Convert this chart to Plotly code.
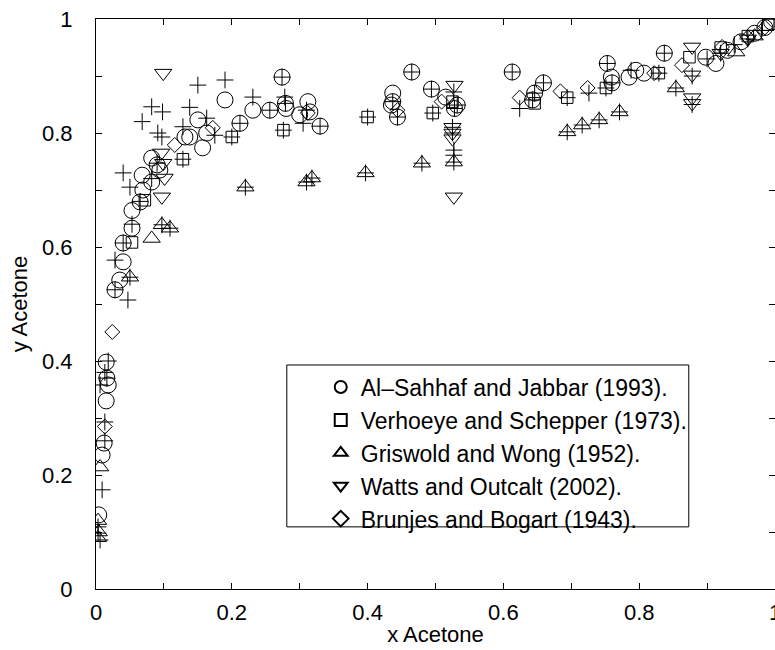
import plotly.graph_objects as go

# Al-Sahhaf and Jabbar (1993)
as_x = [0.004, 0.009, 0.012, 0.015, 0.016, 0.018, 0.015,
        0.028, 0.035, 0.040, 0.040, 0.053, 0.053, 0.065, 0.068, 0.069, 0.082, 0.082, 0.090, 0.094,
        0.131, 0.138, 0.150, 0.157, 0.163, 0.190, 0.212, 0.231, 0.256, 0.274, 0.279, 0.280, 0.300,
        0.312, 0.315, 0.330,
        0.437, 0.437, 0.435, 0.444, 0.465, 0.494, 0.515, 0.532, 0.528, 0.613, 0.646, 0.643, 0.659,
        0.753, 0.759, 0.760, 0.785, 0.795, 0.807, 0.837, 0.898, 0.913, 0.930, 0.950, 0.970, 0.985, 0.995]
as_y = [0.130, 0.235, 0.256, 0.330, 0.370, 0.358, 0.398,
        0.525, 0.542, 0.574, 0.607, 0.633, 0.664, 0.679, 0.726, 0.700, 0.714, 0.756, 0.744, 0.735,
        0.793, 0.793, 0.823, 0.774, 0.800, 0.858, 0.817, 0.840, 0.840, 0.898, 0.852, 0.843, 0.832,
        0.855, 0.837, 0.812,
        0.870, 0.855, 0.849, 0.828, 0.907, 0.877, 0.863, 0.849, 0.843, 0.907, 0.870, 0.858, 0.888,
        0.922, 0.898, 0.888, 0.898, 0.910, 0.905, 0.940, 0.933, 0.922, 0.945, 0.960, 0.975, 0.985, 0.995]

# Verhoeye and Schepper (1973)
vs_x = [0.053, 0.072, 0.128, 0.200, 0.276, 0.400, 0.496, 0.525, 0.646, 0.694, 0.751, 0.829,
        0.874, 0.920, 0.960, 0.990]
vs_y = [0.608, 0.682, 0.754, 0.793, 0.805, 0.828, 0.835, 0.855, 0.852, 0.862, 0.879, 0.905,
        0.933, 0.950, 0.970, 0.990]

# Griswold and Wong (1952)
gw_x = [0.003, 0.004, 0.003, 0.006, 0.050, 0.082, 0.097, 0.109, 0.220, 0.310, 0.318, 0.397,
        0.480, 0.527, 0.694, 0.716, 0.741, 0.771, 0.854, 0.943, 0.970]
gw_y = [0.120, 0.100, 0.090, 0.214, 0.547, 0.615, 0.639, 0.633, 0.705, 0.714, 0.721, 0.730,
        0.747, 0.749, 0.802, 0.814, 0.823, 0.837, 0.879, 0.942, 0.970]

# Watts and Outcalt (2002)
wo_x = [0.099, 0.096, 0.099, 0.101, 0.097, 0.528, 0.525, 0.525, 0.525, 0.527, 0.878, 0.878,
        0.878, 0.878, 0.920, 0.960]
wo_y = [0.905, 0.765, 0.747, 0.721, 0.688, 0.884, 0.810, 0.800, 0.790, 0.688, 0.951, 0.902,
        0.862, 0.852, 0.940, 0.965]

# Brunjes and Bogart (1943)
bb_x = [0.013, 0.024, 0.116, 0.172, 0.312, 0.444, 0.509, 0.624, 0.684, 0.724, 0.822, 0.863,
        0.922, 0.960, 0.985]
bb_y = [0.285, 0.451, 0.779, 0.809, 0.835, 0.840, 0.855, 0.862, 0.873, 0.879, 0.905, 0.919,
        0.951, 0.968, 0.985]

# calculated values (+), no legend entry
calc_x = [0.006, 0.003, 0.003, 0.009, 0.013, 0.013, 0.006, 0.013, 0.018, 0.016,
          0.028, 0.047, 0.028, 0.040, 0.050, 0.040, 0.053, 0.065, 0.082, 0.090, 0.068, 0.082,
          0.098, 0.091, 0.097, 0.128, 0.138, 0.150, 0.190, 0.163, 0.175, 0.097, 0.109, 0.050,
          0.212, 0.231, 0.256, 0.274, 0.279, 0.278, 0.305, 0.310, 0.330, 0.220, 0.310, 0.318,
          0.200, 0.276, 0.128,
          0.397, 0.400, 0.437, 0.444, 0.465, 0.494, 0.480, 0.496, 0.527, 0.527, 0.527, 0.527,
          0.528, 0.525, 0.525, 0.532,
          0.613, 0.624, 0.646, 0.643, 0.659, 0.694, 0.694, 0.716, 0.741, 0.771, 0.726, 0.753,
          0.760, 0.751, 0.788, 0.829, 0.837, 0.854, 0.878, 0.878, 0.900, 0.920, 0.940, 0.960,
          0.980, 1.000]
calc_y = [0.086, 0.098, 0.109, 0.174, 0.260, 0.293, 0.358, 0.380, 0.400, 0.370,
          0.577, 0.507, 0.525, 0.730, 0.705, 0.607, 0.640, 0.680, 0.720, 0.747, 0.820, 0.846,
          0.837, 0.800, 0.793, 0.811, 0.845, 0.884, 0.893, 0.826, 0.796, 0.639, 0.633, 0.547,
          0.817, 0.863, 0.840, 0.898, 0.852, 0.863, 0.817, 0.840, 0.812, 0.705, 0.714, 0.721,
          0.793, 0.805, 0.754,
          0.730, 0.828, 0.855, 0.828, 0.907, 0.877, 0.747, 0.835, 0.872, 0.770, 0.761, 0.749,
          0.843, 0.800, 0.810, 0.849,
          0.907, 0.843, 0.870, 0.858, 0.888, 0.862, 0.802, 0.814, 0.823, 0.837, 0.870, 0.922,
          0.888, 0.879, 0.910, 0.905, 0.940, 0.879, 0.900, 0.850, 0.930, 0.940, 0.955, 0.965,
          0.980, 1.000]

tick_vals = [0, 0.1, 0.2, 0.3, 0.4, 0.5, 0.6, 0.7, 0.8, 0.9, 1.0]
tick_text = ["0", "", "0.2", "", "0.4", "", "0.6", "", "0.8", "", "1"]

series = [
    ("Al\u2013Sahhaf and Jabbar (1993).", as_x, as_y, "circle-open", 16),
    ("Verhoeye and Schepper (1973).", vs_x, vs_y, "square-open", 11.5),
    ("Griswold and Wong (1952).", gw_x, gw_y, "triangle-up-open", 15),
    ("Watts and Outcalt (2002).", wo_x, wo_y, "triangle-down-open", 15),
    ("Brunjes and Bogart (1943).", bb_x, bb_y, "diamond-open", 11.5),
]

fig = go.Figure()
fig.add_trace(go.Scatter(x=calc_x, y=calc_y, mode="markers", showlegend=False,
                         marker=dict(symbol="cross-thin-open", size=12,
                                     line=dict(color="black", width=1), color="black")))
for name, xs, ys, sym, sz in series:
    fig.add_trace(go.Scatter(x=xs, y=ys, mode="markers", name=name,
                             marker=dict(symbol=sym, size=sz, color="black",
                                         line=dict(color="black", width=1))))

axis_font = dict(family="Liberation Sans Narrow, Arial Narrow, Liberation Sans, Arial", size=22, color="black")
common = dict(range=[0, 1], tickvals=tick_vals, ticktext=tick_text, ticks="inside", ticklen=6,
              tickwidth=1, tickcolor="black", showline=True, linecolor="black", linewidth=1,
              mirror="ticks", showgrid=False, zeroline=False, tickfont=axis_font,
              ticklabeloverflow="allow", automargin=False)

fig.update_layout(
    width=775, height=650,
    margin=dict(l=96, r=0, t=19, b=61),
    paper_bgcolor="white", plot_bgcolor="white",
    xaxis=dict(**common, ticklabelstandoff=4,
               title=dict(text="x Acetone", font=axis_font, standoff=2)),
    yaxis=dict(**common, ticklabelstandoff=18,
               title=dict(text="y Acetone", font=axis_font, standoff=8)),
    legend=dict(x=0.331, y=0.392, xanchor="left", yanchor="top",
                bgcolor="rgba(0,0,0,0)", borderwidth=0, itemsizing="constant",
                font=dict(family="Liberation Sans, Arial", size=23, color="black"),
                tracegroupgap=0),
    shapes=[dict(type="rect", xref="paper", yref="paper", x0=0.281, x1=0.873, y0=0.109, y1=0.393,
                 line=dict(color="black", width=1), fillcolor="rgba(0,0,0,0)")],
    showlegend=True,
)

fig.write_html("out.html")
